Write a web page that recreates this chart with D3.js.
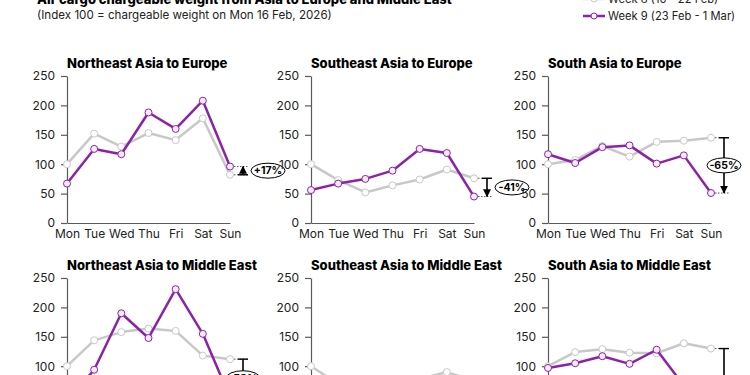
<!DOCTYPE html>
<html>
<head>
<meta charset="utf-8">
<script src="https://cdn.jsdelivr.net/npm/d3@7"></script>
<style>
  body { margin: 0; background: #fff; }
  svg { font-family: Inter, "DejaVu Sans", sans-serif; display: block; }
</style>
</head>
<body>
<div id="chart"></div>
<script>
// data
const days = ["Mon", "Tue", "Wed", "Thu", "Fri", "Sat", "Sun"];
const routes = [
    "Northeast Asia to Europe", "Southeast Asia to Europe", "South Asia to Europe",
    "Northeast Asia to Middle East", "Southeast Asia to Middle East", "South Asia to Middle East"
];
const week8 = [
    [100, 152, 130, 153, 141, 178, 82],
    [100, 73, 52, 64, 74, 91, 76],
    [100, 107, 131, 113, 138, 140, 145],
    [100, 144, 158, 164, 160, 118, 112],
    [100, 70, 68, 72, 78, 90, 75],
    [100, 124, 129, 123, 122, 139, 130]
];
const week9 = [
    [67, 126, 117, 188, 160, 208, 96],
    [56, 67, 75, 89, 126, 119, 45],
    [117, 102, 129, 132, 101, 115, 51],
    [40, 94, 190, 148, 231, 155, 47],
    [75, 60, 55, 62, 58, 45, 20],
    [97, 105, 117, 104, 128, 67, 12]
];
const changeLabels = ["+17%", "-41%", "-65%", "-58%", "-73%", "-91%"];
const yTicks = [0, 50, 100, 150, 200, 250];
const seriesNames = ["Week 8 (16 - 22 Feb)", "Week 9 (23 Feb - 1 Mar)"];

const W = 750, H = 375;
const grey = "#c8c8c8", purple = "#8b22a8";
const colX = [67, 311, 548];
const rowBase = [223, 425];
const pw = 163, ph = 147;

const svg = d3.select("#chart").append("svg")
    .attr("width", W).attr("height", H)
    .style("overflow", "hidden");

svg.append("defs").append("marker")
    .attr("id", "head")
    .attr("viewBox", "0 0 10 10")
    .attr("refX", 9).attr("refY", 5)
    .attr("markerWidth", 5).attr("markerHeight", 5)
    .attr("orient", "auto")
    .append("path").attr("d", "M0,0 L10,5 L0,10 z").attr("fill", "#000");

// heading
svg.append("text").attr("x", 37).attr("y", 4)
    .style("font-size", "13px").style("font-weight", 800)
    .text("Air cargo chargeable weight from Asia to Europe and Middle East");
svg.append("text").attr("x", 37).attr("y", 19)
    .style("font-size", "11.6px").attr("fill", "#222")
    .text("(Index 100 = chargeable weight on Mon 16 Feb, 2026)");

// legend
const legend = svg.append("g");
[grey, purple].forEach((c, i) => {
    const ly = -1 + i * 17;
    legend.append("line").attr("x1", 583).attr("x2", 605).attr("y1", ly).attr("y2", ly)
        .attr("stroke", c).attr("stroke-width", 2.5);
    legend.append("circle").attr("cx", 594).attr("cy", ly).attr("r", 3)
        .attr("fill", "#fff").attr("stroke", c).attr("stroke-width", 1);
    legend.append("text").attr("x", 608).attr("y", ly + 4)
        .style("font-size", "11.2px").attr("fill", "#222")
        .text(seriesNames[i]);
});

const x = d3.scalePoint().domain(days).range([0, pw]);
const y = d3.scaleLinear().domain([0, 250]).range([ph, 0]);
const line = d3.line().x((d, i) => x(days[i])).y(d => y(d));

routes.forEach((name, p) => {
    const ox = colX[p % 3], oy = rowBase[Math.floor(p / 3)] - ph;
    const g = svg.append("g").attr("transform", `translate(${ox},${oy})`);

    g.append("text").attr("x", 0).attr("y", -8)
        .style("font-size", "13px").style("font-weight", 800)
        .text(name);

    const ya = g.append("g")
        .call(d3.axisLeft(y).tickValues(yTicks).tickSize(6).tickPadding(6).tickSizeOuter(0));
    const xa = g.append("g").attr("transform", `translate(0,${ph})`)
        .call(d3.axisBottom(x).tickSize(0).tickPadding(6));
    [ya, xa].forEach(a => {
        a.selectAll("path, line").attr("stroke", "#5a5a5a").attr("stroke-width", 1.2);
        a.selectAll("text").style("font-size", "12px").attr("fill", "#222")
            .style("font-family", "Inter, sans-serif");
    });

    [[week8[p], grey, "#fff"], [week9[p], purple, "#f6ecf8"]].forEach(([vals, c, f]) => {
        g.append("path").datum(vals).attr("d", line)
            .attr("fill", "none").attr("stroke", c).attr("stroke-width", 2.5)
            .attr("stroke-linejoin", "round");
        g.selectAll(null).data(vals).enter().append("circle")
            .attr("cx", (d, i) => x(days[i])).attr("cy", d => y(d)).attr("r", 3.5)
            .attr("fill", f).attr("stroke", c).attr("stroke-width", 1);
    });

    // change annotation at Sunday
    const sx = x("Sun"), ax = sx + 13;
    const y8 = y(week8[p][6]), y9 = y(week9[p][6]);
    [y8, y9].forEach(yy => {
        g.append("line").attr("x1", sx + 4).attr("x2", ax + 5).attr("y1", yy).attr("y2", yy)
            .attr("stroke", "#555").attr("stroke-width", 1).attr("stroke-dasharray", "1.5,1.5");
    });
    g.append("line").attr("x1", ax - 5).attr("x2", ax + 5).attr("y1", y8).attr("y2", y8)
        .attr("stroke", "#000").attr("stroke-width", 1.4);
    g.append("line").attr("x1", ax).attr("x2", ax).attr("y1", y8).attr("y2", y9)
        .attr("stroke", "#000").attr("stroke-width", 1.6).attr("marker-end", "url(#head)");
    const span = Math.abs(y9 - y8);
    const cx = span > 30 ? ax : ax + 25, cy = (y8 + y9) / 2;
    g.append("ellipse").attr("cx", cx).attr("cy", cy).attr("rx", 17).attr("ry", 7.5)
        .attr("fill", "#fff").attr("stroke", "#000").attr("stroke-width", 1);
    g.append("text").attr("x", cx).attr("y", cy + 3.8).attr("text-anchor", "middle")
        .style("font-size", "10.5px").style("font-weight", 700)
        .text(changeLabels[p]);
});
</script>
</body>
</html>
